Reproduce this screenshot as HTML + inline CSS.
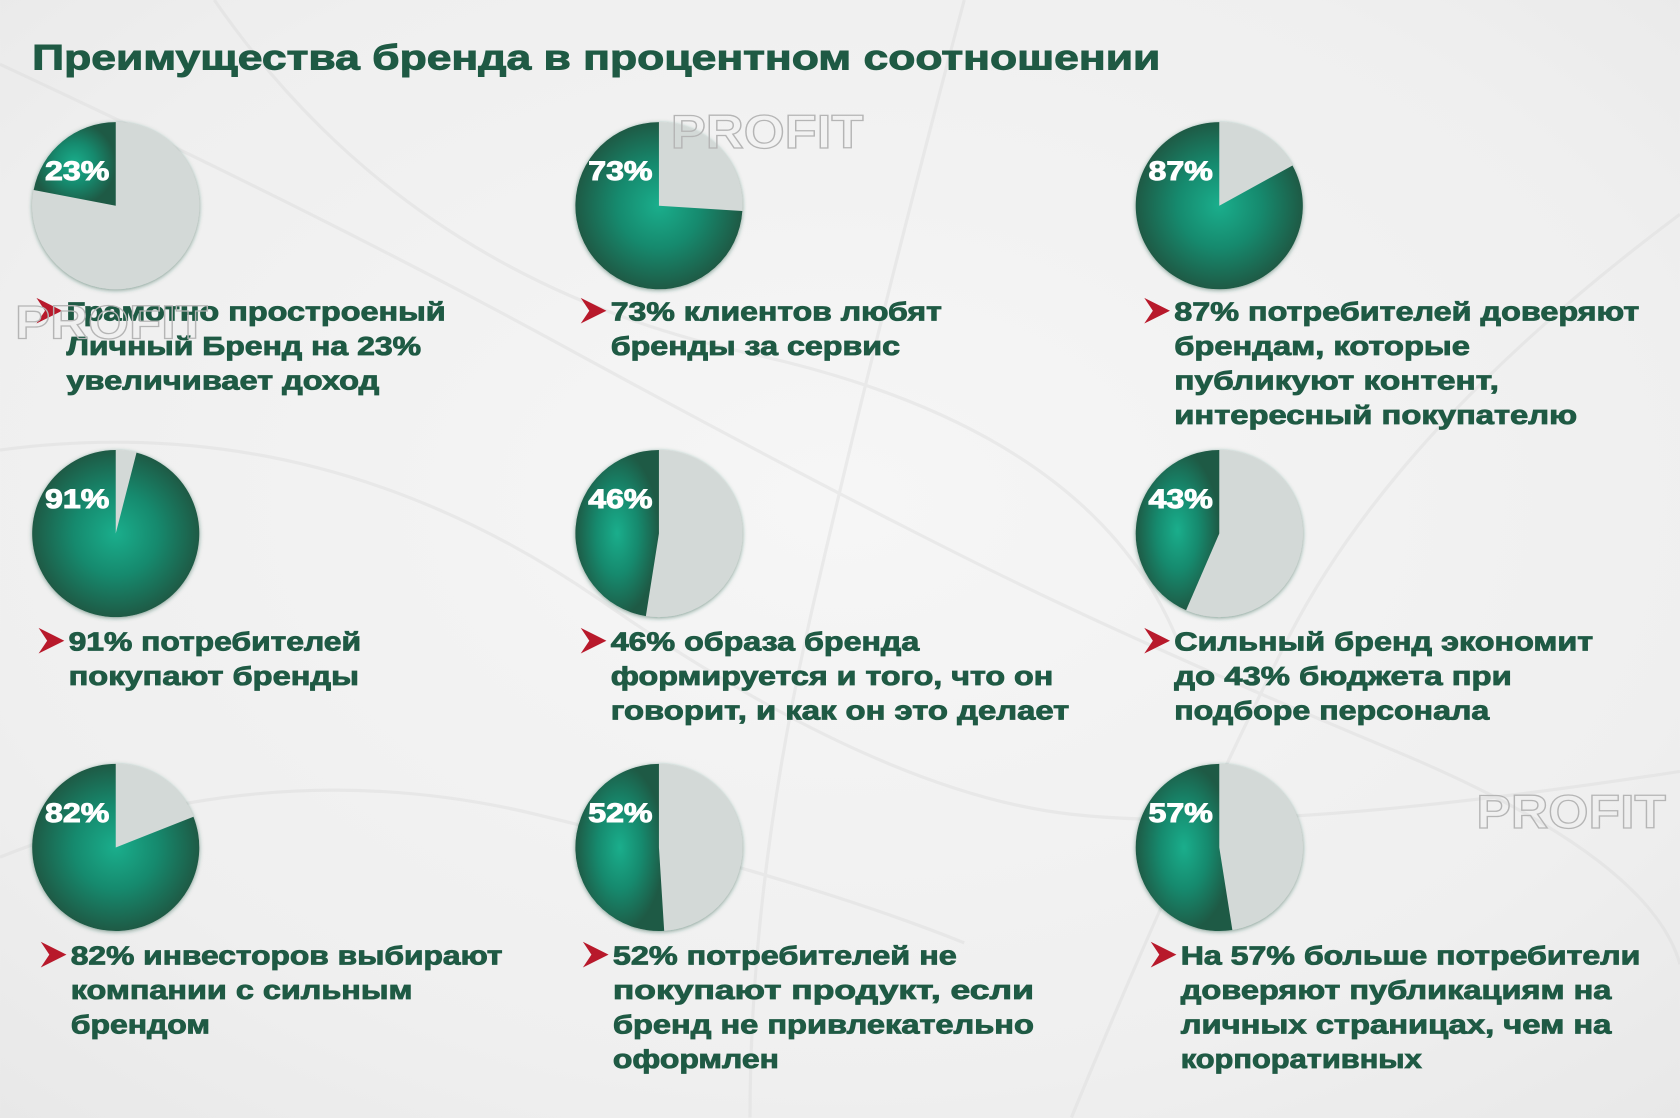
<!DOCTYPE html>
<html><head><meta charset="utf-8">
<style>
html,body{margin:0;padding:0;background:#f3f3f3;}
svg{display:block;}
text{font-family:"Liberation Sans","Noto Sans CJK SC",sans-serif;font-weight:bold;}
</style></head>
<body>
<svg id="chart" width="1680" height="1118" viewBox="0 0 1568 1043.5" xmlns="http://www.w3.org/2000/svg">
<defs>
<radialGradient id="bg" cx="0.5" cy="0.45" r="0.75">
<stop offset="0" stop-color="#f6f6f6"/><stop offset="0.7" stop-color="#efefef"/><stop offset="1" stop-color="#e8e8e8"/>
</radialGradient>
<radialGradient id="gg" cx="0.5" cy="0.5" r="0.5">
<stop offset="0" stop-color="#1aae8c"/><stop offset="0.5" stop-color="#168a6e"/><stop offset="1" stop-color="#1e5a45"/>
</radialGradient>
<filter id="sh" x="-20%" y="-20%" width="140%" height="140%"><feDropShadow dx="0" dy="1" stdDeviation="2" flood-color="#1e5a45" flood-opacity="0.55"/></filter>
</defs>
<rect width="1568" height="1043.5" fill="url(#bg)"/>
<g stroke="#dcdcdc" fill="none" stroke-width="3" opacity="0.45">
<path d="M0 60 Q300 200 520 320 T900 520 T1300 700 T1568 900"/>
<path d="M200 0 Q380 260 700 330 T1100 600"/>
<path d="M0 420 Q300 380 560 560 T1000 760 T1568 720"/>
<path d="M900 0 Q820 300 760 560 T700 1043"/>
<path d="M1568 200 Q1300 400 1200 600 T1000 1043"/>
<path d="M0 800 Q250 700 500 760 T900 880"/>
</g>
<text x="30" y="65" font-size="33" fill="#1f5a44" stroke="#1f5a44" stroke-width="0.9" textLength="1053" lengthAdjust="spacingAndGlyphs">Преимущества бренда в процентном соотношении</text>
<g id="marks"></g>
<g fill="none" stroke="#b5b5b5" stroke-width="1.2" font-size="44">
<text x="626" y="138" textLength="180" lengthAdjust="spacingAndGlyphs">PROFIT</text>
<text x="1378" y="773" textLength="177" lengthAdjust="spacingAndGlyphs">PROFIT</text>
<text x="14" y="316" textLength="180" lengthAdjust="spacingAndGlyphs">PROFIT</text>
</g>
</svg>
<script>
const sliceValues = [22, 74, 83, 96, 47.5, 43.5, 81, 51, 52.5];
const labels = ["23%", "73%", "87%", "91%", "46%", "43%", "82%", "52%", "57%"];
const captions = [
 ["Грамотно простроеный","Личный Бренд на 23%","увеличивает доход"],
 ["73% клиентов любят","бренды за сервис"],
 ["87% потребителей доверяют","брендам, которые","публикуют контент,","интересный покупателю"],
 ["91% потребителей","покупают бренды"],
 ["46% образа бренда","формируется и того, что он","говорит, и как он это делает"],
 ["Сильный бренд экономит","до 43% бюджета при","подборе персонала"],
 ["82% инвесторов выбирают","компании с сильным","брендом"],
 ["52% потребителей не","покупают продукт, если","бренд не привлекательно","оформлен"],
 ["На 57% больше потребители","доверяют публикациям на","личных страницах, чем на","корпоративных"]
];
const captionWidths = [
 [354,331,292],[309,270],[434,276,303,376],
 [273,271],[288,413,428],[391,315,294],
 [403,319,130],[321,393,393,155],[429,402,402,225]
];
const NS = "http://www.w3.org/2000/svg";
const g = document.getElementById('marks');
const colX = [108, 615, 1138];
const rowY = [192, 498, 791];
const textX = [[62,570,1096],[64,570,1096],[66,572,1102]];
const textY = [299, 607, 900];
const R = 78;
function mk(tag, attrs){const e=document.createElementNS(NS,tag);for(const k in attrs)e.setAttribute(k,attrs[k]);return e;}
function pt(cx,cy,frac){const a=-Math.PI/2 - frac*2*Math.PI;return [cx+R*Math.cos(a), cy+R*Math.sin(a)];}
sliceValues.forEach((v,i)=>{
  const r=Math.floor(i/3), c=i%3, cx=colX[c], cy=rowY[r];
  const grp=mk('g',{});
  
  
  const base=mk('circle',{cx:cx,cy:cy,r:R,fill:'#d3d9d7',filter:'url(#sh)'});
  
  
  grp.appendChild(base);
  const f=v/100, e=pt(cx,cy,f), large=f>0.5?1:0;
  const p=mk('path',{d:`M${cx} ${cy} L${cx} ${cy-R} A${R} ${R} 0 ${large} 0 ${e[0]} ${e[1]} Z`,fill:'url(#gg)'});
  
  
  grp.appendChild(p);
  const t=mk('text',{x:cx-66,y:cy-24,'font-size':25,fill:'#ffffff',stroke:'#ffffff','stroke-width':0.9,textLength:60,lengthAdjust:'spacingAndGlyphs'});
  
  
  t.textContent=labels[i];
  grp.appendChild(t);
  g.appendChild(grp);
  const tx=textX[r][c], ty=textY[r];
  const ar=mk('path',{d:`M${tx-28} ${ty-21} L${tx-4} ${ty-9} L${tx-28} ${ty+3} L${tx-20} ${ty-9} Z`,fill:'#b8192b'});
  
  
  g.appendChild(ar);
  captions[i].forEach((line,j)=>{
    const lt=mk('text',{x:tx,y:ty+j*32.3,'font-size':24,fill:'#1f5a44',stroke:'#1f5a44','stroke-width':0.8,textLength:captionWidths[i][j],lengthAdjust:'spacingAndGlyphs'});
    
    
    lt.textContent=line;
    g.appendChild(lt);
  });
});
</script>
</body></html>
